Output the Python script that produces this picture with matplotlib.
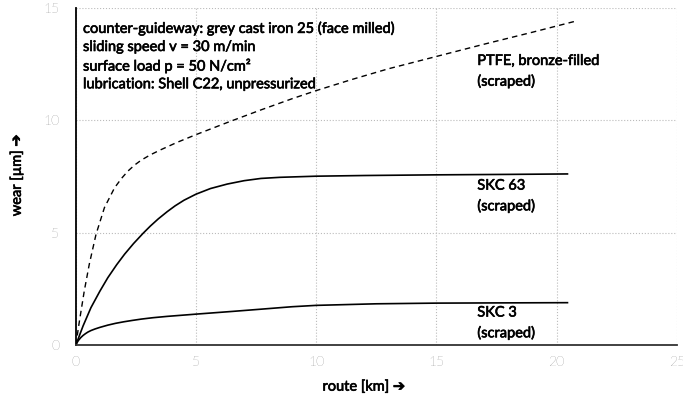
import numpy as np
import matplotlib
matplotlib.use("Agg")
import matplotlib.pyplot as plt
import matplotlib.patheffects as pe

plt.rcParams['font.family'] = ['Lato', 'DejaVu Sans']

# PTFE, bronze-filled (dashed)
ptfe_x = [0, 0.14, 0.35, 0.56, 0.84, 1.19, 1.61, 1.9, 2.17, 2.45, 2.73, 3.1, 3.5, 4.2,
          5.0, 6.4, 7.7, 9.0, 10.0, 11.5, 13.0, 15.0, 17.0, 19.0, 20.86]
ptfe_y = [0, 1.0, 2.4, 3.6, 4.93, 6.12, 7.0, 7.42, 7.75, 8.02, 8.24, 8.47, 8.68, 9.02,
          9.37, 9.95, 10.47, 10.97, 11.33, 11.83, 12.3, 12.85, 13.4, 13.93, 14.44]

# SKC 63
skc63_x = [0, 0.3, 0.63, 1.0, 1.33, 1.7, 2.03, 2.4, 2.8, 3.1, 3.43, 3.8, 4.13, 4.5,
           5.0, 5.6, 6.3, 7.0, 7.7, 8.5, 10, 12, 15, 18, 20.45]
skc63_y = [0, 0.85, 1.67, 2.4, 3.0, 3.58, 4.05, 4.52, 4.98, 5.3, 5.62, 5.94, 6.2, 6.45,
           6.72, 6.97, 7.17, 7.32, 7.42, 7.47, 7.52, 7.55, 7.58, 7.6, 7.62]

# SKC 3
skc3_x = [0, 0.04, 0.1, 0.21, 0.3, 0.4, 0.5, 0.63, 0.8, 1.0, 1.33, 1.65, 2.0, 2.35,
          2.73, 3.2, 3.8, 5, 6.5, 7.7, 9, 10, 12.5, 15, 17.5, 20.45]
skc3_y = [0, 0.09, 0.2, 0.34, 0.43, 0.51, 0.58, 0.65, 0.72, 0.79, 0.89, 0.97, 1.04,
          1.1, 1.16, 1.22, 1.28, 1.38, 1.5, 1.6, 1.71, 1.77, 1.84, 1.87, 1.88, 1.89]

x_ticks = [0, 5, 10, 15, 20, 25]
y_ticks = [0, 5, 10, 15]

info_lines = ["counter-guideway: grey cast iron 25 (face milled)",
              "sliding speed v = 30 m/min",
              "surface load p = 50 N/cm²",
              "lubrication: Shell C22, unpressurized"]

fig = plt.figure(figsize=(6.83, 4.07), dpi=100)
ax = fig.add_axes([0.111, 0.152, 0.880, 0.828])

ax.plot(ptfe_x, ptfe_y, color='black', lw=1.0, ls=(0, (4, 3)))
ax.plot(skc63_x, skc63_y, color='black', lw=1.2)
ax.plot(skc3_x, skc3_y, color='black', lw=1.2)

ax.set_xlim(0, 25)
ax.set_ylim(0, 15)
ax.set_xticks(x_ticks)
ax.set_yticks(y_ticks)
ax.tick_params(length=0, labelsize=10, labelcolor='#444444')
ax.tick_params(axis='x', pad=8)
ax.tick_params(axis='y', pad=12)
for lab in ax.get_xticklabels() + ax.get_yticklabels():
    lab.set_fontweight('light')

ax.grid(True, color='#bbbbbb', ls=':', lw=0.8)
ax.set_axisbelow(True)
ax.spines['top'].set_visible(False)
ax.spines['right'].set_visible(False)
ax.spines['left'].set_linewidth(1.3)
ax.spines['bottom'].set_linewidth(1.3)
ax.spines['bottom'].set_color('#333333')

# slightly heavier text, like the semibold face of the original
heavy = [pe.withStroke(linewidth=0.45, foreground='black')]
txt = dict(fontsize=10.5, va='center', path_effects=heavy)
for i, line in enumerate(info_lines):
    ax.text(0.3, 14.1 - i * 0.83, line, **txt)

ax.text(16.7, 12.65, "PTFE, bronze-filled", **txt)
ax.text(16.7, 11.75, "(scraped)", **txt)
ax.text(16.7, 7.1, "SKC 63", **txt)
ax.text(16.7, 6.2, "(scraped)", **txt)
ax.text(16.7, 1.45, "SKC 3", **txt)
ax.text(16.7, 0.55, "(scraped)", **txt)

fig.text(0.533, 0.05, "route [km] ➔", fontsize=10.5, ha='center', va='center',
         path_effects=heavy)
fig.text(0.024, 0.57, "wear [µm] ➔", fontsize=10.5, ha='center', va='center',
         rotation=90, path_effects=heavy)

fig.savefig("out.png", dpi=100)
